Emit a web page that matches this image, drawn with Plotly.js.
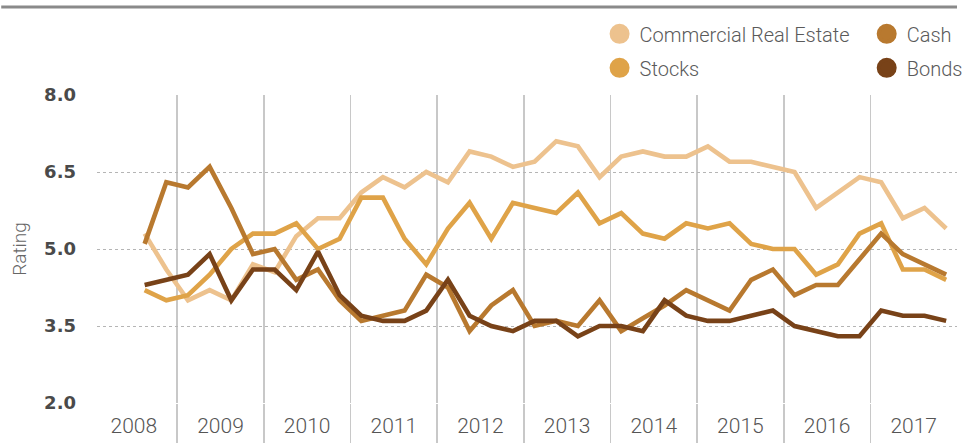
<!DOCTYPE html>
<html>
<head>
<meta charset="utf-8">
<script src="https://cdn.plot.ly/plotly-3.0.1.min.js"></script>
<style>
  html, body { margin: 0; padding: 0; background: #ffffff; }
  #chart { width: 968px; height: 443px; }
</style>
</head>
<body>
<div id="chart"></div>
<script>
// ---- Data (quarterly ratings, 2008 Q3 through 2017 Q4) ----
const startYear = 2008;
const startQuarter = 3;
const years = [2008, 2009, 2010, 2011, 2012, 2013, 2014, 2015, 2016, 2017];
const yTicks = [2.0, 3.5, 5.0, 6.5, 8.0];

const seriesNames = ["Commercial Real Estate", "Stocks", "Cash", "Bonds"];

const commercialRealEstate = [5.3, 4.6, 4.0, 4.2, 4.0, 4.7, 4.55, 5.25, 5.6, 5.6,
  6.1, 6.4, 6.2, 6.5, 6.3, 6.9, 6.8, 6.6, 6.7, 7.1,
  7.0, 6.4, 6.8, 6.9, 6.8, 6.8, 7.0, 6.7, 6.7, 6.6,
  6.5, 5.8, 6.1, 6.4, 6.3, 5.6, 5.8, 5.4];

const stocks = [4.2, 4.0, 4.1, 4.5, 5.0, 5.3, 5.3, 5.5, 5.0, 5.2,
  6.0, 6.0, 5.2, 4.7, 5.4, 5.9, 5.2, 5.9, 5.8, 5.7,
  6.1, 5.5, 5.7, 5.3, 5.2, 5.5, 5.4, 5.5, 5.1, 5.0,
  5.0, 4.5, 4.7, 5.3, 5.5, 4.6, 4.6, 4.4];

const cash = [5.1, 6.3, 6.2, 6.6, 5.8, 4.9, 5.0, 4.4, 4.6, 4.0,
  3.6, 3.7, 3.8, 4.5, 4.25, 3.4, 3.9, 4.2, 3.5, 3.6,
  3.5, 4.0, 3.4, 3.65, 3.9, 4.2, 4.0, 3.8, 4.4, 4.6,
  4.1, 4.3, 4.3, 4.8, 5.3, 4.9, 4.7, 4.5];

const bonds = [4.3, 4.4, 4.5, 4.9, 4.0, 4.6, 4.6, 4.2, 4.95, 4.1,
  3.7, 3.6, 3.6, 3.8, 4.4, 3.7, 3.5, 3.4, 3.6, 3.6,
  3.3, 3.5, 3.5, 3.4, 4.0, 3.7, 3.6, 3.6, 3.7, 3.8,
  3.5, 3.4, 3.3, 3.3, 3.8, 3.7, 3.7, 3.6];

// ---- Styles ----
const colors = {
  "Commercial Real Estate": "#EDC28E",
  "Stocks": "#DFA348",
  "Cash": "#B8792F",
  "Bonds": "#784218"
};
const valuesByName = {
  "Commercial Real Estate": commercialRealEstate,
  "Stocks": stocks,
  "Cash": cash,
  "Bonds": bonds
};

// quarter midpoints as fractional years
const quarterX = commercialRealEstate.map((_, i) => {
  const q = startQuarter - 1 + i;
  return startYear + Math.floor(q / 4) + ((q % 4) + 0.5) / 4;
});

const lineTraces = seriesNames.map(name => ({
  type: "scatter",
  mode: "lines",
  x: quarterX,
  y: valuesByName[name],
  name: name,
  showlegend: false,
  hoverinfo: "skip",
  line: { color: colors[name], width: 4.6, shape: "linear" }
}));

// legend-only traces (circle swatches), two columns
const legendAssign = {
  "Commercial Real Estate": "legend",
  "Stocks": "legend",
  "Cash": "legend2",
  "Bonds": "legend2"
};
const legendOrder = ["Commercial Real Estate", "Stocks", "Cash", "Bonds"];
const legendTraces = legendOrder.map(name => ({
  type: "scatter",
  mode: "markers",
  x: [null],
  y: [null],
  name: name,
  legend: legendAssign[name],
  legendgroup: name,
  showlegend: true,
  marker: { color: colors[name], size: 16, symbol: "circle",
            line: { color: colors[name], width: 4 } }
}));

const legendFont = { family: "Roboto, 'Open Sans', sans-serif", size: 20, color: "#5a5a5a", weight: 300 };

const layout = {
  width: 968,
  height: 443,
  margin: { l: 97, r: 0, t: 95, b: 40, pad: 0 },
  paper_bgcolor: "#ffffff",
  plot_bgcolor: "#ffffff",
  showlegend: true,
  xaxis: {
    range: [2008.075, 2018],
    tickmode: "array",
    tickvals: years.map(y => y + 0.5),
    ticktext: years.map(String),
    showgrid: false,
    zeroline: false,
    showline: false,
    ticks: "",
    ticklabelstandoff: 8,
    tickfont: { family: "Roboto, 'Open Sans', sans-serif", size: 21, color: "#555555", weight: 300 },
    fixedrange: true,
    minor: {
      tickmode: "array",
      tickvals: years.slice(1),
      showgrid: true,
      gridcolor: "#c8c8c8",
      gridwidth: 1.6,
      ticks: "outside",
      ticklen: 40,
      tickwidth: 1.6,
      tickcolor: "#c8c8c8"
    }
  },
  yaxis: {
    range: [2, 8],
    tickmode: "array",
    tickvals: yTicks,
    ticktext: yTicks.map(v => v.toFixed(1)),
    showgrid: true,
    gridcolor: "#b5b5b5",
    gridwidth: 1,
    griddash: "dot",
    zeroline: false,
    showline: false,
    ticks: "",
    ticklabelstandoff: 20,
    tickfont: { family: "'DejaVu Sans', sans-serif", size: 18, color: "#4a4a4a", weight: 700 },
    title: {
      text: "Rating",
      font: { family: "Roboto, 'Open Sans', sans-serif", size: 19, color: "#666666", weight: 300 },
      standoff: 12
    },
    fixedrange: true
  },
  legend: {
    x: 0.5844, xanchor: "left",
    y: 1.262, yanchor: "top",
    orientation: "v",
    font: legendFont,
    bgcolor: "rgba(0,0,0,0)",
    borderwidth: 0,
    itemsizing: "trace",
    tracegroupgap: 5,
    traceorder: "grouped"
  },
  legend2: {
    x: 0.895, xanchor: "left",
    y: 1.262, yanchor: "top",
    orientation: "v",
    font: legendFont,
    bgcolor: "rgba(0,0,0,0)",
    borderwidth: 0,
    itemsizing: "trace",
    tracegroupgap: 5,
    traceorder: "grouped"
  },
  shapes: [{
    type: "line",
    xref: "paper", yref: "paper",
    x0: -97 / 871, x1: 1,
    y0: (403 - 7) / 308, y1: (403 - 7) / 308,
    line: { color: "#8a8a8a", width: 3 }
  }]
};

Plotly.newPlot("chart", lineTraces.concat(legendTraces), layout, { displayModeBar: false, staticPlot: true });
</script>
</body>
</html>
